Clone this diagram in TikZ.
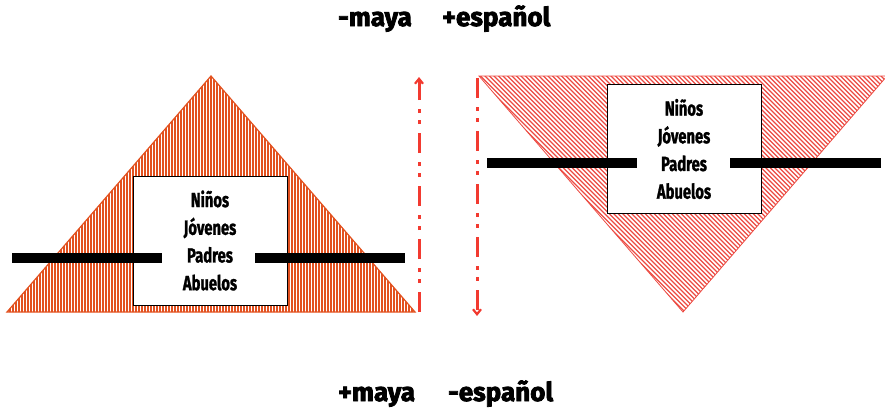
\documentclass[tikz,border=0pt]{standalone}
\usepackage{fontspec}
\newfontfamily\condfont[FakeStretch=0.72,FakeBold=1.2]{Fira Sans}
\newfontfamily\heavyfont[FakeBold=3]{Fira Sans}
\usetikzlibrary{arrows.meta}
\definecolor{triorange}{HTML}{E2511F}
\definecolor{trired}{HTML}{EC4A42}
\definecolor{dashred}{HTML}{F23A30}
\tikzset{
  grpbox/.style={draw=black, line width=1pt, fill=white, minimum width=154pt, minimum height=129pt, inner sep=0pt},
  grptext/.style={font=\condfont\bfseries\fontsize{20.5}{27.7}\selectfont, align=center, text=black},
  bar/.style={line width=10pt, black},
  axisline/.style={dashred, line width=3pt, dash pattern=on 20pt off 9pt on 4pt off 7pt on 4pt off 9pt, -{Straight Barb[length=5pt,width=8pt,line width=2.2pt]}},
  biglabel/.style={font=\heavyfont\bfseries\fontsize{26}{28}\selectfont, text=black, inner sep=0pt, anchor=base west}
}
\begin{document}
\begin{tikzpicture}[x=1pt,y=-1pt]
\useasboundingbox (0,0) rectangle (885,413);
% labels
\node[biglabel] (tl1) at (338,26) {-maya};
\node[biglabel] (tl2) at (442,26) {+español};
\node[biglabel] (bl1) at (338,401) {+maya};
\node[biglabel] (bl2) at (448,401) {-español};
% left triangle
\coordinate (LA) at (211,76);
\coordinate (LB) at (7,312);
\coordinate (LC) at (415,312);
\begin{scope}
  \clip (LA) -- (LB) -- (LC) -- cycle;
  \foreach \x in {7,10,...,415} {\draw[triorange, line width=1.6pt] (\x,70) -- (\x,320);}
\end{scope}
\draw[triorange, line width=1.2pt, line join=miter] (LA) -- (LB) -- (LC) -- cycle;
% right triangle
\coordinate (RA) at (479,76);
\coordinate (RB) at (887,76);
\coordinate (RC) at (683,312);
\begin{scope}
  \clip (RA) -- (RB) -- (RC) -- cycle;
  \foreach \x in {200,204.5,...,900} {\draw[trired, line width=1.3pt] (\x,70) -- (\x+260,330);}
\end{scope}
\draw[trired, line width=0.8pt] (RA) -- (RB) -- (RC) -- cycle;
% boxes
\node[grpbox] (lbox) at (210,240.5) {};
\node[grptext] (ltext) at (lbox.center) {Niños\\Jóvenes\\Padres\\Abuelos};
\node[grpbox] (rbox) at (684,149) {};
\node[grptext] (rtext) at (rbox.center) {Niños\\Jóvenes\\Padres\\Abuelos};
% bars
\coordinate (lb1) at (12,258); \coordinate (lb2) at (162,258);
\coordinate (lb3) at (255,258); \coordinate (lb4) at (405,258);
\coordinate (rb1) at (487,163); \coordinate (rb2) at (637,163);
\coordinate (rb3) at (730,163); \coordinate (rb4) at (881,163);
\draw[bar] (lb1) -- (lb2);
\draw[bar] (lb3) -- (lb4);
\draw[bar] (rb1) -- (rb2);
\draw[bar] (rb3) -- (rb4);
% axes
\coordinate (ax1s) at (419,312); \coordinate (ax1e) at (419,77);
\coordinate (ax2s) at (477,78); \coordinate (ax2e) at (477,316);
\draw[axisline] (ax1s) -- (ax1e);
\draw[axisline] (ax2s) -- (ax2e);
\end{tikzpicture}
\end{document}
